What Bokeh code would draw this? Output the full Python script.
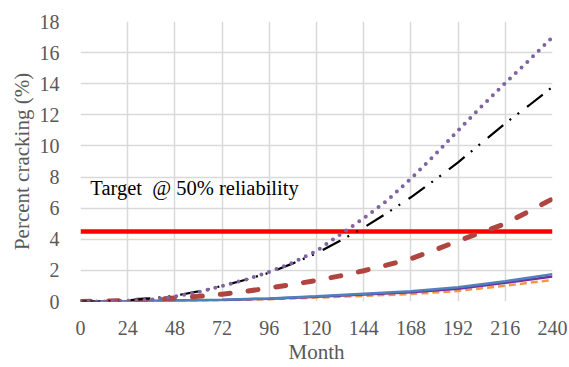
from bokeh.plotting import figure
from bokeh.models import FixedTicker, ColumnDataSource
from bokeh.embed import file_html
from bokeh.resources import INLINE
from bokeh.core.properties import value

# Data
months_fine = [0, 12, 24, 36, 48, 60, 72, 84, 96, 108, 120, 132, 144, 156, 168, 180, 192, 204, 216, 228, 240]
purple_dotted = [0, 0, 0.05, 0.12, 0.32, 0.6, 1.0, 1.4, 1.9, 2.5, 3.25, 4.3, 5.35, 6.5, 7.9, 9.4, 11.0, 12.55, 14.05, 15.5, 17.0]
black_dashdot = [0, 0, 0.08, 0.2, 0.37, 0.65, 1.0, 1.4, 1.85, 2.45, 3.1, 3.9, 4.75, 5.7, 6.7, 7.8, 8.95, 10.2, 11.45, 12.6, 13.8]
red_dashed = [0, 0.02, 0.06, 0.12, 0.22, 0.33, 0.47, 0.65, 0.87, 1.1, 1.35, 1.65, 1.98, 2.35, 2.75, 3.3, 3.9, 4.45, 5.0, 5.8, 6.6]

months = [0, 24, 48, 72, 96, 120, 144, 168, 192, 216, 240]
blue_solid = [0, 0.02, 0.06, 0.12, 0.2, 0.34, 0.5, 0.66, 0.92, 1.3, 1.76]
purple_solid = [0, 0.02, 0.05, 0.1, 0.18, 0.3, 0.45, 0.6, 0.82, 1.2, 1.6]
orange_dashed = [0, 0.01, 0.04, 0.08, 0.15, 0.25, 0.36, 0.48, 0.68, 1.02, 1.38]

target = 4.5
target_label = "Target\u00a0 @ 50% reliability"
x_ticks = [0, 24, 48, 72, 96, 120, 144, 168, 192, 216, 240]
y_ticks = [0, 2, 4, 6, 8, 10, 12, 14, 16, 18]

FONT = "Liberation Serif"
GREY = "#595959"

p = figure(width=569, height=367, x_range=(0, 240), y_range=(0, 18),
           output_backend="svg", toolbar_location=None,
           min_border_left=80, min_border_right=17, min_border_top=21, min_border_bottom=66)
p.outline_line_color = None
p.background_fill_color = "white"
p.border_fill_color = "white"

p.xaxis.ticker = FixedTicker(ticks=x_ticks)
p.yaxis.ticker = FixedTicker(ticks=y_ticks)
p.xgrid.ticker = FixedTicker(ticks=x_ticks)
p.ygrid.ticker = FixedTicker(ticks=y_ticks)
for g in (p.xgrid, p.ygrid):
    g.grid_line_color = "#D9D9D9"
    g.grid_line_width = 1.5

for ax in (p.xaxis, p.yaxis):
    ax.axis_line_color = None
    ax.major_tick_line_color = None
    ax.minor_tick_line_color = None
    ax.major_label_text_font = FONT
    ax.major_label_text_font_size = "20px"
    ax.major_label_text_color = GREY
    ax.axis_label_text_font = FONT
    ax.axis_label_text_font_size = "21px"
    ax.axis_label_text_color = GREY
    ax.axis_label_text_font_style = "normal"

p.xaxis.axis_label = "Month"
p.yaxis.axis_label = "Percent cracking (%)"
p.xaxis.major_label_standoff = 13
p.yaxis.major_label_standoff = 15
p.xaxis.axis_label_standoff = 2
p.yaxis.axis_label_standoff = 3

# Target line
p.line(x=[x_ticks[0], x_ticks[-1]], y=[target, target], line_color="#FF0000", line_width=4.5)

# Low series
p.line(months, orange_dashed, line_color="#F79646", line_width=2.5, line_dash="7 4")
p.line(months, purple_solid, line_color="#7030A0", line_width=2.5)
p.line(months, blue_solid, line_color="#4F81BD", line_width=2.5)

# Upper series
p.line(months_fine, red_dashed, line_color="#B0443F", line_width=5, line_dash="10 18", line_cap="round")
p.line(months_fine, black_dashdot, line_color="black", line_width=2.2, line_dash="20 8 2 8 2 10")
p.line(months_fine, purple_dotted, line_color="#8064A2", line_width=4, line_dash="0 8", line_cap="round")

src = ColumnDataSource(dict(x=[5], y=[7.3], t=[target_label]))
p.text(x="x", y="y", text="t", source=src, text_font=value(FONT), text_font_size="20.5px",
       text_color="black", text_baseline="alphabetic", text_align="left")

open("out.html", "w").write(file_html(p, INLINE))
